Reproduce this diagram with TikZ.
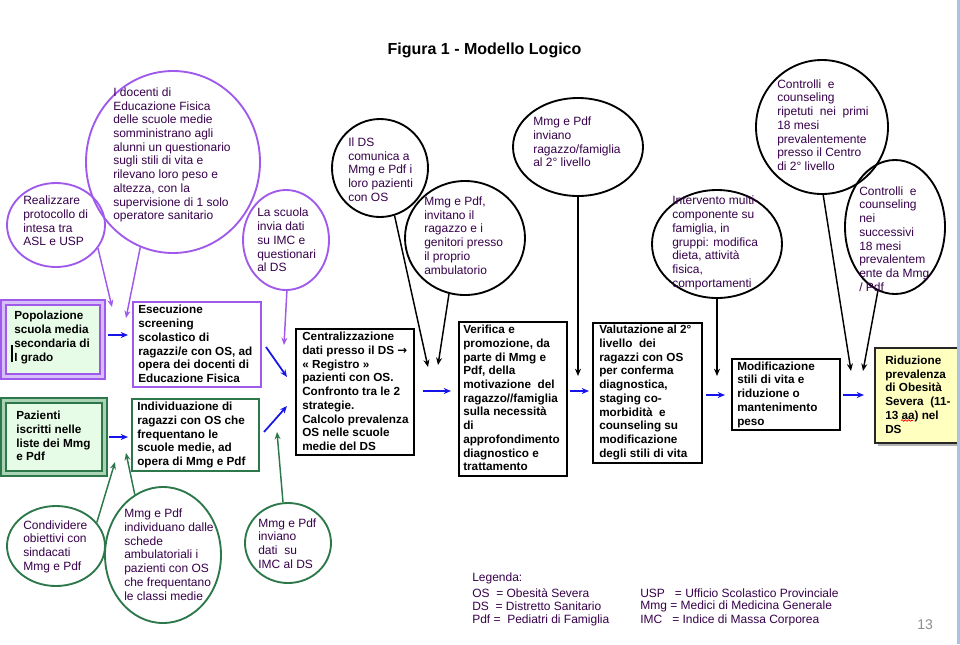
\documentclass[tikz,border=0pt]{standalone}
\usepackage{fontspec}
\setmainfont{Liberation Sans}
\newfontfamily\djv{DejaVu Sans}
\usetikzlibrary{shapes.geometric,arrows.meta,decorations.pathmorphing}
\definecolor{purp}{RGB}{160,90,235}
\definecolor{pbev}{RGB}{215,190,250}
\definecolor{grn}{RGB}{45,120,75}
\definecolor{gbev}{RGB}{170,210,180}
\definecolor{lgrn}{RGB}{230,252,230}
\definecolor{blu}{RGB}{20,20,235}
\definecolor{ltxt}{RGB}{55,0,75}
\definecolor{lyel}{RGB}{255,255,192}
\definecolor{barcol}{RGB}{170,195,228}
\tikzset{
  bub/.style={ellipse, inner sep=0pt, line width=1.4pt},
  pbub/.style={bub, draw=purp},
  gbub/.style={bub, draw=grn},
  kbub/.style={bub, draw=black},
  etxt/.style={anchor=west, align=left, inner sep=0pt, text=ltxt, font=\fontsize{9}{10.3}\selectfont},
  btxt/.style={anchor=west, align=left, inner sep=0pt, text=black, font=\bfseries\fontsize{8.8}{10.3}\selectfont},
  boxk/.style={draw=black, line width=1.3pt, inner sep=0pt, fill=white},
  parr/.style={draw=purp, line width=1.1pt, -{Stealth[length=5.5pt,width=4.5pt]}},
  garr/.style={draw=grn, line width=1.1pt, -{Stealth[length=5.5pt,width=4.5pt]}},
  karr/.style={draw=black, line width=1.1pt, -{Stealth[length=5.5pt,width=4.5pt]}},
  barr/.style={draw=blu, line width=1.3pt, -{Stealth[length=5.5pt,width=4.5pt]}},
  legtxt/.style={anchor=west, inner sep=0pt, text=ltxt, font=\fontsize{9}{10.3}\selectfont}
}
\begin{document}
\begin{tikzpicture}[x=0.75pt,y=-0.75pt]
\useasboundingbox (0,0) rectangle (960,644);
\fill[white] (0,0) rectangle (960,644);

% title
\node[font=\bfseries\fontsize{12}{14}\selectfont, inner sep=0pt] (title) at (484.5,50) {Figura 1 - Modello Logico};

% purple ellipses
\node[pbub, minimum width=73.5pt, minimum height=63pt] (P1) at (56,225) {};
\node[pbub, minimum width=130.5pt, minimum height=136.5pt] (P2) at (173,162) {};
\node[pbub, minimum width=64.5pt, minimum height=75pt] (P3) at (286,240) {};
\node[etxt] (P1t) at (23,221) {Realizzare\\protocollo di\\intesa tra\\ASL e USP};
\node[etxt] (P2t) at (113,155) {I docenti di\\Educazione Fisica\\delle scuole medie\\somministrano agli\\alunni un questionario\\sugli stili di vita e\\rilevano loro peso e\\altezza, con la\\supervisione di 1 solo\\operatore sanitario};
\node[etxt] (P3t) at (257,240) {La scuola\\invia dati\\su IMC e\\questionari\\al DS};

% green ellipses
\node[gbub, minimum width=73.5pt, minimum height=60pt] (G1) at (56,546) {};
\node[gbub, minimum width=87pt, minimum height=102pt] (G2) at (163,555) {};
\node[gbub, minimum width=64.5pt, minimum height=60pt] (G3) at (288,543) {};
\node[etxt] (G1t) at (23,546.5) {Condividere\\obiettivi con\\sindacati\\Mmg e Pdf};
\node[etxt] (G2t) at (124,554.5) {Mmg e Pdf\\individuano dalle\\schede\\ambulatoriali i\\pazienti con OS\\che frequentano\\le classi medie};
\node[etxt] (G3t) at (258,543.5) {Mmg e Pdf\\inviano\\dati\ \ su\\IMC al DS};

% black ellipses
\node[kbub, minimum width=72pt, minimum height=73.5pt] (K1) at (380,168) {};
\node[kbub, minimum width=90pt, minimum height=85.5pt] (K2) at (465,238) {};
\node[kbub, minimum width=97.5pt, minimum height=73.5pt] (K3) at (578,147) {};
\node[kbub, minimum width=97.5pt, minimum height=81pt] (K4) at (717,244) {};
\node[kbub, minimum width=99pt, minimum height=100.5pt] (K5) at (822,127) {};
\node[kbub, minimum width=75pt, minimum height=100.5pt] (K6) at (895,227) {};
\node[etxt] (K1t) at (348,169.5) {Il DS\\comunica a\\Mmg e Pdf i\\loro pazienti\\con OS};
\node[etxt] (K2t) at (424,235.5) {Mmg e Pdf,\\invitano il\\ragazzo e i\\genitori presso\\il proprio\\ambulatorio};
\node[etxt] (K3t) at (533,142) {Mmg e Pdf\\inviano\\ragazzo/famiglia\\al 2° livello};
\node[etxt] (K4t) at (672,243) {Intervento multi-\\componente su\\famiglia, in\\gruppi: modifica\\dieta, attività\\fisica,\\comportamenti};
\node[etxt] (K5t) at (777,125) {Controlli\ \ e\\counseling\\ripetuti\ \ nei\ \ primi\\18 mesi\\prevalentemente\\presso il Centro\\di 2° livello};
\node[etxt] (K6t) at (859,239) {Controlli\ \ e\\counseling\\nei\\successivi\\18 mesi\\prevalentem\\ente da Mmg\\/ Pdf};

% box A (bevel, purple)
\node[draw=purp, fill=pbev, line width=1pt, inner sep=0pt, minimum width=78pt, minimum height=59.25pt] (A) at (53,339.5) {};
\node[draw=purp, fill=lgrn, line width=0.8pt, inner sep=0pt, minimum width=70.5pt, minimum height=51.75pt] (Ai) at (53,339.5) {};
\node[btxt] (At) at (14,337.5) {Popolazione\\scuola media\\secondaria di\\I grado};
\draw[line width=1.5pt] (12,345) -- (12,362);

% box C (bevel, green)
\node[draw=grn, fill=gbev, line width=1pt, inner sep=0pt, minimum width=79.5pt, minimum height=58.5pt] (C) at (54,437) {};
\node[draw=grn, fill=lgrn, line width=0.8pt, inner sep=0pt, minimum width=72pt, minimum height=51pt] (Ci) at (54,437) {};
\node[btxt] (Ct) at (16,436) {Pazienti\\iscritti nelle\\liste dei Mmg\\e Pdf};

% box B, D
\node[draw=purp, line width=1.4pt, inner sep=0pt, fill=white, minimum width=96pt, minimum height=63.75pt] (B) at (197,344.5) {};
\node[btxt] (Bt) at (138,344) {Esecuzione\\screening\\scolastico di\\ragazzi/e con OS, ad\\opera dei docenti di\\Educazione Fisica};
\node[draw=grn, line width=1.4pt, inner sep=0pt, fill=white, minimum width=95.25pt, minimum height=54pt] (D) at (195.5,435) {};
\node[btxt] (Dt) at (137,435) {Individuazione di\\ragazzi con OS che\\frequentano le\\scuole medie, ad\\opera di Mmg e Pdf};

% black boxes
\node[boxk, minimum width=88.5pt, minimum height=94.5pt] (F) at (355,392) {};
\node[btxt] (Ft) at (302,391.5) {Centralizzazione\\dati presso il DS {\djv\bfseries →}\\« Registro »\\pazienti con OS.\\Confronto tra le 2\\strategie.\\Calcolo prevalenza\\OS nelle scuole\\medie del DS};
\node[boxk, minimum width=81pt, minimum height=115.5pt] (G) at (513,399) {};
\node[btxt] (Gt) at (463,398) {Verifica e\\promozione, da\\parte di Mmg e\\Pdf, della\\motivazione\ \ del\\ragazzo//famiglia\\sulla necessità\\di\\approfondimento\\diagnostico e\\trattamento};
\node[boxk, minimum width=81.75pt, minimum height=105pt] (H) at (647.5,393) {};
\node[btxt] (Ht) at (599,392.5) {Valutazione al 2°\\livello\ \ dei\\ragazzi con OS\\per conferma\\diagnostica,\\staging co-\\morbidità\ \ e\\counseling su\\modificazione\\degli stili di vita};
\node[boxk, minimum width=81pt, minimum height=53.25pt] (I) at (786,394.5) {};
\node[btxt] (It) at (737,394.5) {Modificazione\\stili di vita e\\riduzione o\\mantenimento\\peso};

% box J (yellow with shadow)
\fill[black!30] (878,351) rectangle (965,446);
\node[draw=black!85, line width=0.9pt, fill=lyel, inner sep=0pt, minimum width=65.25pt, minimum height=71.25pt] (J) at (918.5,395.5) {};
\node[btxt] (Jt) at (885,394.5) {Riduzione\\prevalenza\\di Obesità\\Severa\ \ (11-\\13 aa) nel\\DS};
\draw[red, line width=0.5pt, decorate, decoration={snake, amplitude=0.6pt, segment length=2.5pt}] (901,420.5) -- (913,420.5);

% arrow end points
\coordinate (tP1) at (112,307);
\coordinate (tP2) at (126,318);
\coordinate (tP3) at (284,345);
\coordinate (tG1) at (115,462);
\coordinate (tG2) at (126,453);
\coordinate (tG3) at (277,432);
\coordinate (tK1) at (428,367);
\coordinate (tK2) at (438,365);
\coordinate (tK3) at (578,376);
\coordinate (tK4) at (717,376);
\coordinate (tK5) at (851,371);
\coordinate (tK6) at (863,371);

% purple connectors
\draw[parr] (P1.-29) -- (tP1);
\draw[parr] (P2.-111) -- (tP2);
\draw[parr] (P3.-89) -- (tP3);
% green connectors
\draw[garr] (G1.30) -- (tG1);
\draw[garr] (G2.115) -- (tG2);
\draw[garr] (G3.97) -- (tG3);
% black connectors
\draw[karr] (K1.-73) -- (tK1);
\draw[karr] (K2.-106) -- (tK2);
\draw[karr] (K3.south) -- (tK3);
\draw[karr] (K4.south) -- (tK4);
\draw[karr] (K5.-89) -- (tK5);
\draw[karr] (K6.-105) -- (tK6);

% blue arrows
\coordinate (ab1) at (108,335); \coordinate (ab2) at (128,335);
\coordinate (cd1) at (109,437); \coordinate (cd2) at (128,437);
\coordinate (bf1) at (266,347); \coordinate (bf2) at (287,377);
\coordinate (df1) at (264,432); \coordinate (df2) at (287,406);
\coordinate (fg1) at (423,391); \coordinate (fg2) at (451,391);
\coordinate (gh1) at (570,391); \coordinate (gh2) at (589,391);
\coordinate (hi1) at (706,395); \coordinate (hi2) at (725,395);
\coordinate (ij1) at (843,395); \coordinate (ij2) at (864,395);
\draw[barr] (ab1) -- (ab2);
\draw[barr] (cd1) -- (cd2);
\draw[barr] (bf1) -- (bf2);
\draw[barr] (df1) -- (df2);
\draw[barr] (fg1) -- (fg2);
\draw[barr] (gh1) -- (gh2);
\draw[barr] (hi1) -- (hi2);
\draw[barr] (ij1) -- (ij2);

% legend
\node[legtxt] (leg0) at (472,578) {Legenda:};
\node[legtxt] (leg1) at (472,593) {OS\ \ = Obesità Severa};
\node[legtxt] (leg2) at (472,606) {DS\ \ = Distretto Sanitario};
\node[legtxt] (leg3) at (472,620) {Pdf =\ \ Pediatri di Famiglia};
\node[legtxt] (leg4) at (640,593) {USP\ \ \ = Ufficio Scolastico Provinciale};
\node[legtxt] (leg5) at (640,606) {Mmg\ = Medici di Medicina Generale};
\node[legtxt] (leg6) at (640,620) {IMC\ \ \ = Indice di Massa Corporea};
\node[anchor=west, inner sep=0pt, text=black!45, font=\fontsize{10.5}{12}\selectfont] (pg) at (917,625) {13};

% right bar
\fill[barcol] (957,0) rectangle (960,644);
\end{tikzpicture}
\end{document}
